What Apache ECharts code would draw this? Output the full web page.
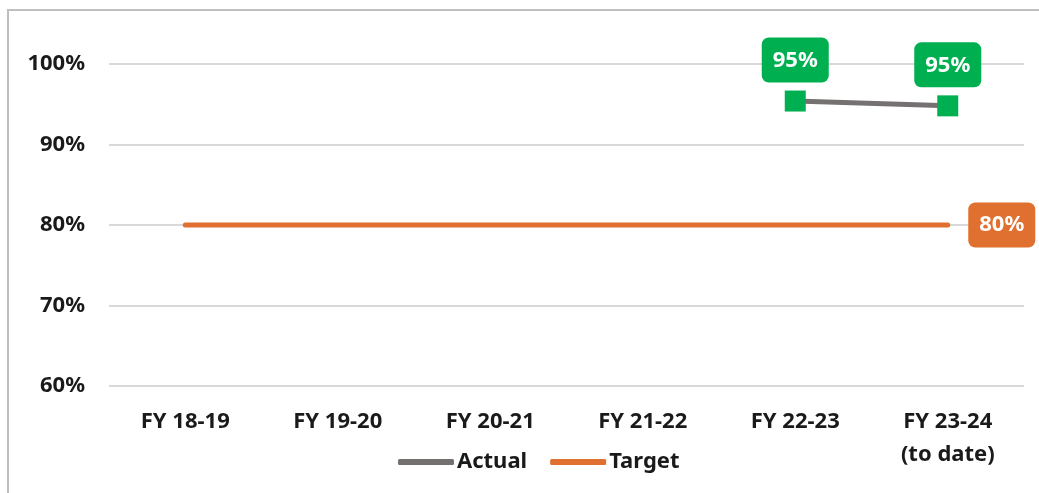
<!DOCTYPE html>
<html>
<head>
<meta charset="utf-8">
<script src="https://cdn.jsdelivr.net/npm/echarts@6/dist/echarts.min.js"></script>
<style>
html,body{margin:0;padding:0;background:#fff;}
#wrap{position:relative;width:1039px;height:493px;}
#chart{position:absolute;left:0;top:0;width:1039px;height:493px;}
#frame{position:absolute;left:7px;top:9px;width:1040px;height:500px;border-left:2px solid #bfbfbf;border-top:2px solid #bfbfbf;pointer-events:none;}
</style>
</head>
<body>
<div id="wrap"><div id="chart"></div><div id="frame"></div></div>
<script>
const categories = ['FY 18-19', 'FY 19-20', 'FY 20-21', 'FY 21-22', 'FY 22-23', 'FY 23-24\n(to date)'];
const actualValues = [null, null, null, null, 95.4, 94.8];
const targetValues = [80, 80, 80, 80, 80, 80];
const yTicks = [60, 70, 80, 90, 100];

const FONT = 'Noto Sans';
const chart = echarts.init(document.getElementById('chart'), null, {renderer: 'canvas'});

const lastIdx = targetValues.length - 1;
const targetData = targetValues.map((v, i) => i === lastIdx ? {
  value: v,
  label: {
    show: true, position: 'right', distance: 20,
    formatter: () => Math.round(v) + '%',
    color: '#fff', fontFamily: FONT, fontWeight: 'bold', fontSize: 22,
    backgroundColor: '#E0702F', borderRadius: 7,
    padding: [12, 11, 11, 11]
  }
} : v);

chart.setOption({
  animation: false,
  grid: {left: 109, right: 15, top: 64, bottom: 107},
  xAxis: {
    type: 'category',
    data: categories,
    boundaryGap: true,
    axisLine: {show: false},
    axisTick: {show: false},
    axisLabel: {
      color: '#1a1a1a', fontFamily: FONT, fontWeight: 'bold', fontSize: 22,
      margin: 19, lineHeight: 33, interval: 0
    }
  },
  yAxis: {
    type: 'value',
    min: yTicks[0], max: yTicks[yTicks.length - 1], interval: 10,
    axisLine: {show: false},
    axisTick: {show: false},
    axisLabel: {
      color: '#1a1a1a', fontFamily: FONT, fontWeight: 'bold', fontSize: 22,
      margin: 24, formatter: v => v + '%'
    },
    splitLine: {lineStyle: {color: '#d9d9d9', width: 2}}
  },
  legend: {
    left: 393, top: 446,
    icon: 'roundRect', itemWidth: 56, itemHeight: 6, itemGap: 23,
    textStyle: {color: '#1a1a1a', fontFamily: FONT, fontWeight: 'bold', fontSize: 22, padding: [0, 0, 0, -2]},
    data: [
      {name: 'Actual', itemStyle: {color: '#767171'}},
      {name: 'Target', itemStyle: {color: '#E0702F'}}
    ]
  },
  series: [
    {
      name: 'Target', type: 'line', data: targetData,
      symbol: 'circle', symbolSize: 1, showSymbol: true,
      itemStyle: {color: '#E0702F'},
      lineStyle: {color: '#E0702F', width: 5, cap: 'round'},
      z: 2
    },
    {
      name: 'Actual', type: 'line', data: actualValues,
      symbol: 'rect', symbolSize: 21,
      itemStyle: {color: '#00B050'},
      lineStyle: {color: '#767171', width: 5},
      label: {
        show: true, position: 'top', distance: 8,
        formatter: p => Math.round(p.value) + '%',
        color: '#fff', fontFamily: FONT, fontWeight: 'bold', fontSize: 22,
        backgroundColor: '#00B050', borderRadius: 7,
        padding: [12, 11, 11, 11]
      },
      z: 3
    }
  ]
});
</script>
</body>
</html>
